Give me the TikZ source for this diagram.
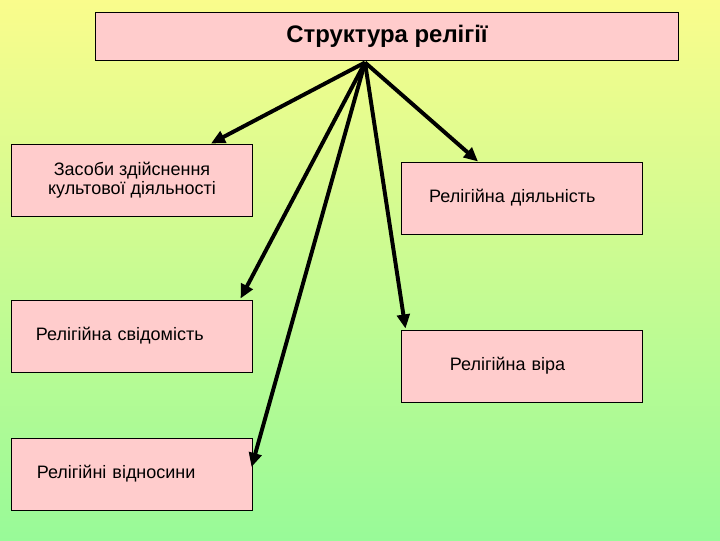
\documentclass[tikz,border=0pt]{standalone}
\usepackage{fontspec}
\setmainfont{Liberation Sans}
\usetikzlibrary{arrows.meta,calc}
\definecolor{boxpink}{RGB}{255,204,204}
\definecolor{bgtop}{RGB}{250,252,140}
\definecolor{bgbot}{RGB}{152,250,152}

\begin{document}
\begin{tikzpicture}[x=0.025cm, y=-0.025cm, >={Triangle[length=10pt,width=9pt]},
  font=\fontsize{12.8}{13.5}\selectfont,
  box/.style={draw, line width=0.7pt, fill=boxpink, minimum width=6cm, minimum height=1.8cm, align=center},
  link/.style={->, line width=2.8pt}]
% --- background: yellow fading to green ---
\useasboundingbox (0,0) rectangle (720,540);
\shade[top color=bgtop, bottom color=bgbot] (0,0) rectangle (720,540);
% --- title box ---
\node[box, minimum width=14.55cm, minimum height=1.2cm, font=\fontsize{17}{19}\selectfont\bfseries]
  (top) at (387,36) {Структура релігії};
% --- the five parts ---
\node[box] (b1) at (132,180) {Засоби здійснення\\культової діяльності};
\node[box, align=left, inner xsep=0.68cm, text width=4.64cm] (b2) at (522,198) {Релігійна діяльність};
\node[box, align=left, inner xsep=0.6cm, text width=4.8cm] (b3) at (132,336) {Релігійна свідомість};
\node[box, align=left, inner xsep=1.2cm, text width=3.6cm] (b4) at (522,366) {Релігійна віра};
\node[box, align=left, inner xsep=0.62cm, text width=4.76cm] (b5) at (132,474) {Релігійні відносини};
% --- arrows from one point under the title ---
\coordinate (hub) at ($(top.south)+(-22,2)$);
\draw[link] (hub) -- ($(b1.north)+(79,0)$);
\draw[link] (hub) -- ($(b2.north)+(-44,0)$);
\draw[link] (hub) -- ($(b3.north east)+(-12,-1)$);
\draw[link] (hub) -- ($(b4.north west)+(4,-1)$);
\draw[link] (hub) -- ($(b5.east)+(-1,-7)$);
\end{tikzpicture}
\end{document}
